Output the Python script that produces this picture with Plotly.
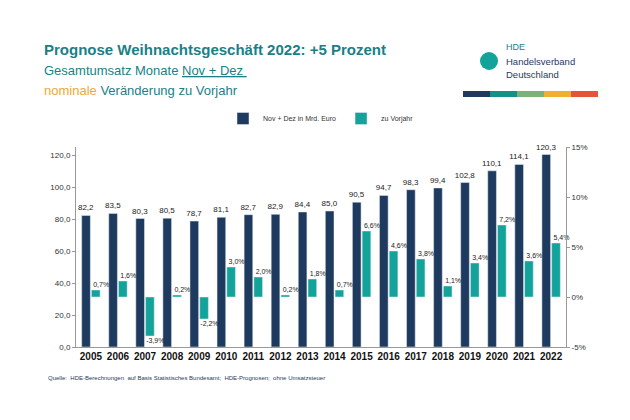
import plotly.graph_objects as go

years = [str(y) for y in range(2005, 2023)]
umsatz = [82.2, 83.5, 80.3, 80.5, 78.7, 81.1, 82.7, 82.9, 84.4, 85.0, 90.5, 94.7, 98.3, 99.4, 102.8, 110.1, 114.1, 120.3]
veraend = [0.7, 1.6, -3.9, 0.2, -2.2, 3.0, 2.0, 0.2, 1.8, 0.7, 6.6, 4.6, 3.8, 1.1, 3.4, 7.2, 3.6, 5.4]

def de(v, suf=""):
    return f"{v:.1f}".replace(".", ",") + suf

dark = "#1f3a5f"
teal = "#13a39a"

L, R, T, B = 68, 72, 139, 81
idx = list(range(len(years)))

fig = go.Figure()
fig.add_bar(x=idx, y=umsatz, name="Nov + Dez in Mrd. Euro", marker_color=dark,
            width=0.32, offset=-0.34, text=[de(v) for v in umsatz], textposition="outside",
            constraintext="none", textfont=dict(size=8, color="#222"), cliponaxis=False)
fig.add_bar(x=idx, y=veraend, name="zu Vorjahr", marker_color=teal, yaxis="y2",
            width=0.32, offset=0.02, cliponaxis=False)
fig.add_scatter(x=[i + 0.38 for i in idx], y=[v + (0.15 if v >= 0 else -0.15) for v in veraend],
                yaxis="y2", mode="text", text=[de(v, "%") for v in veraend],
                textposition=["top center" if v >= 0 else "bottom center" for v in veraend],
                textfont=dict(size=7, color="#222"), showlegend=False, cliponaxis=False, hoverinfo="skip")

fig.update_layout(
    width=630, height=420, margin=dict(l=L, r=R, t=T, b=B),
    paper_bgcolor="white", plot_bgcolor="white", font=dict(family="Liberation Sans", color="#333"),
    barmode="overlay", showlegend=True,
    legend=dict(orientation="h", x=0.5, xanchor="center", y=1.07, yanchor="bottom", font=dict(size=7),
                itemwidth=30, tracegroupgap=0),
    xaxis=dict(tickvals=idx, ticktext=["<b>%s</b>" % y for y in years], range=[-0.55, 17.55],
               tickfont=dict(size=10, color="#111", family="Liberation Sans"), showline=True, linecolor="#999",
               ticks="", showgrid=False, zeroline=False),
    yaxis=dict(range=[0, 125], tickvals=[0, 20, 40, 60, 80, 100, 120],
               ticktext=[de(v) for v in [0, 20, 40, 60, 80, 100, 120]], tickfont=dict(size=8),
               showgrid=False, showline=True, linecolor="#999", ticks="outside", ticklen=3, tickcolor="#999", zeroline=False),
    yaxis2=dict(range=[-5, 15], overlaying="y", side="right", tickvals=[-5, 0, 5, 10, 15],
                ticktext=["-5%", "0%", "5%", "10%", "15%"], tickfont=dict(size=8), showgrid=False,
                showline=True, linecolor="#999", ticks="outside", ticklen=3, tickcolor="#999", zeroline=False),
)

def px(x, y):
    return (x - L) / (630 - L - R), (420 - B - y) / (420 - T - B)

ann = [
    dict(text="<b>Prognose Weihnachtsgeschäft 2022: +5 Prozent</b>", x=34, y=41, size=15, color="#1a7f86"),
    dict(text="Gesamtumsatz Monate <u>Nov + Dez </u>", x=34, y=62, size=13, color="#1a7f86"),
    dict(text="<span style='color:#f0a830'>nominale</span> Veränderung zu Vorjahr", x=34, y=82, size=13, color="#1a7f86"),
    dict(text="HDE", x=496, y=39, size=9, color="#1a7f86"),
    dict(text="Handelsverband", x=496, y=53, size=9.5, color="#1f3a5f"),
    dict(text="Deutschland", x=496, y=67, size=9.5, color="#1f3a5f"),
    dict(text="Quelle:  HDE-Berechnungen  auf Basis Statistisches Bundesamt;  HDE-Prognosen;  ohne Umsatzsteuer", x=38, y=370, size=6, color="#1f3a5f"),
]
for d in ann:
    xx, yy = px(d["x"], d["y"])
    fig.add_annotation(text=d["text"], x=xx, y=yy, xref="paper", yref="paper",
                       xanchor="left", yanchor="middle", showarrow=False,
                       font=dict(size=d["size"], color=d["color"], family="Liberation Sans"))
fig.add_shape(type="circle", xref="paper", yref="paper", layer="below",
              x0=px(472, 0)[0], x1=px(490, 0)[0], y0=px(0, 44)[1], y1=px(0, 62)[1],
              fillcolor="#13a39a", line_width=0)
fig.add_annotation(text="<b>h</b>", x=px(481, 0)[0], y=px(0, 53)[1], xref="paper", yref="paper",
                   showarrow=False, font=dict(size=14, color="white", family="Liberation Sans"))
cols = ["#1f3a5f", "#13908a", "#7bb27a", "#f0b030", "#e5553a"]
for i, c in enumerate(cols):
    x0 = 455 + i * 27
    fig.add_shape(type="rect", xref="paper", yref="paper", x0=px(x0, 0)[0], x1=px(x0 + 27, 0)[0],
                  y0=px(0, 89)[1], y1=px(0, 83)[1], fillcolor=c, line_width=0)

fig.write_html("out.html")
